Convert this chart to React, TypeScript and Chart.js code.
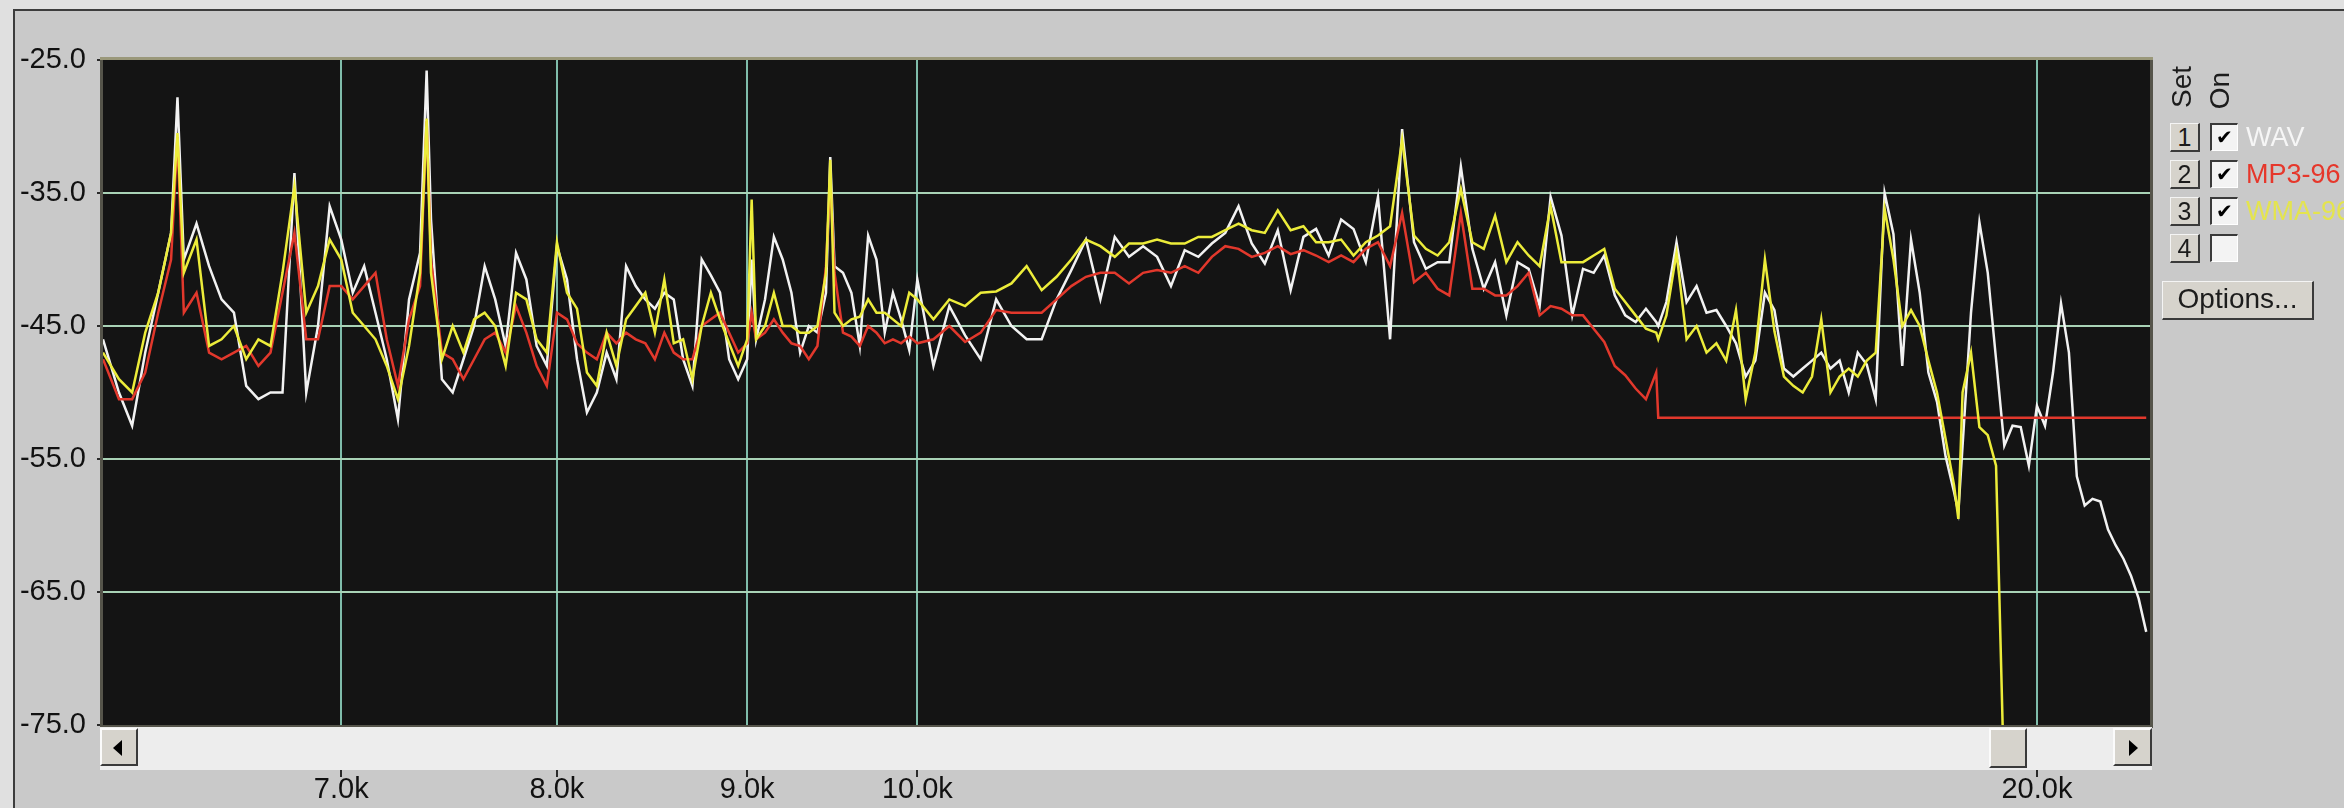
import React, { useEffect, useRef } from "react";
import { Chart, registerables } from "chart.js";

Chart.register(...registerables);

// ---- data ----
const FREQ_HZ = [
  6040, 6100, 6150, 6200, 6250, 6300, 6325, 6350, 6400, 6450, 6500, 6550, 6600, 6650, 6700, 6750, 6800, 6850, 6900, 6950,
  7000, 7050, 7100, 7150, 7200, 7250, 7300, 7350, 7380, 7400, 7450, 7500, 7550, 7600, 7650, 7700, 7750, 7800, 7850, 7900, 7950,
  8000, 8050, 8100, 8150, 8200, 8250, 8300, 8350, 8400, 8450, 8500, 8550, 8600, 8650, 8700, 8750, 8800, 8850, 8900, 8950,
  9000, 9025, 9050, 9100, 9150, 9200, 9250, 9300, 9350, 9400, 9450, 9475, 9500, 9550, 9600, 9650, 9700, 9750, 9800, 9850, 9900, 9950,
  10000,
  10100, 10200, 10300, 10400, 10500, 10600, 10700, 10800, 10900, 11000,
  11100, 11200, 11300, 11400, 11500, 11600, 11700, 11800, 11900, 12000,
  12100, 12200, 12300, 12400, 12500, 12600, 12700, 12800, 12900, 13000,
  13100, 13200, 13300, 13400, 13500, 13600, 13700, 13800, 13900, 14000,
  14100, 14200, 14300, 14400, 14500, 14600, 14700, 14800, 14900, 15000,
  15100, 15200, 15300, 15400, 15500, 15600, 15700, 15800,
  15820,
  15900, 16000, 16100, 16200, 16300, 16400, 16500, 16600, 16700, 16800,
  16900, 17000, 17100, 17200, 17300, 17400, 17500, 17600, 17700, 17800,
  17900, 18000, 18100, 18200, 18300, 18400, 18500, 18600, 18700, 18800, 18900, 19000,
  19050,
  19100, 19200, 19300, 19400, 19500, 19600, 19700, 19800, 19900, 20000,
  20100, 20200, 20300, 20400, 20500, 20600, 20700, 20800, 20900, 21000, 21100, 21200, 21300, 21400,
];

const WAV_DB = [
  -46, -50, -52.5, -47, -42.5, -38, -27.8, -40, -37.3, -40.5, -43, -44, -49.5, -50.5, -50, -50, -33.5, -50, -45, -36,
  -38.5, -42.5, -40.5, -44, -47.5, -52, -43, -39.5, -25.8, -37, -49, -50, -47.5, -45, -40.5, -43, -46.5, -39.5, -41.5, -46.5, -48,
  -39, -41.5, -47.5, -51.5, -50, -47, -49, -40.5, -42, -43, -43.7, -42.5, -43, -47.5, -49.5, -40, -41.2, -42.5, -47.5, -49,
  -47.5, -40, -46, -43, -38.3, -40, -42.5, -47, -45, -45.5, -42.5, -32.3, -40.5, -41, -42.5, -46.5, -38.2, -40, -45.5, -42.5, -44.5, -46.8,
  -41.5,
  -48, -43.5, -45.7, -47.5, -43, -45, -46, -46, -43, -40.8,
  -38.5, -43, -38.3, -39.8, -39, -39.8, -42, -39.3, -39.8, -38.8,
  -38, -36, -38.8, -40.3, -37.8, -42.3, -38.3, -37.7, -39.7, -37,
  -37.7, -40.2, -35.3, -46, -30.2, -38.7, -40.7, -40.2, -40.2, -33,
  -39.2, -42.2, -40.2, -44.2, -40.2, -40.7, -43.5, -35.3, -38.2, -44.2,
  -40.7, -41, -39.7, -42.7, -44.2, -44.7, -43.7, -44.7,
  -45,
  -43.2, -38.7, -43.2, -42, -44, -43.8, -45, -46.3, -48.8, -47.6,
  -42.5, -43.8, -48.2, -48.8, -48.2, -47.6, -47, -48.2, -47.6, -50,
  -47, -47.9, -50.5, -35, -38.1, -48, -38.5, -42.5, -48.5, -50.7, -54.8, -57.5,
  -59,
  -54, -44, -37.2, -41, -47.5, -54, -52.5, -52.6, -55.5, -51,
  -52.5, -48.5, -43.3, -47, -56.3, -58.5, -58, -58.2, -60.3, -61.5, -62.5, -63.8, -65.5, -68,
];

const MP3_96_DB = [
  -47.5, -50.5, -50.5, -48.5, -44, -40, -30.8, -44, -42.5, -47, -47.5, -47, -46.5, -48, -47, -42.5, -38, -46, -46, -42,
  -42, -43, -42, -41, -46, -49.5, -44.5, -42, -29.6, -40, -47, -47.5, -49, -47.5, -46, -45.5, -47, -43.5, -45.5, -48, -49.5,
  -44, -44.5, -46.3, -47, -47.5, -45.5, -46.3, -45.5, -46, -46.3, -47.5, -45.5, -47, -47.5, -47.5, -45, -44.5, -44, -45.5, -47,
  -46.3, -44, -46, -45.5, -44.5, -45.5, -46.3, -46.5, -47.5, -46.5, -40.5, -34, -41, -45.5, -45.8, -46.5, -45, -45.5, -46.3, -46, -46.3, -45.8,
  -46.3,
  -46, -45, -46.2, -45.5, -43.8, -44, -44, -44, -43, -42,
  -41.3, -41, -41, -41.8, -41, -40.8, -41, -40.5, -41, -39.8,
  -39, -39.2, -39.8, -39.5, -39, -39.6, -39.3, -39.7, -40.2, -39.7,
  -40.2, -39.2, -38.7, -40.5, -36.5, -41.7, -41, -42.2, -42.7, -36.5,
  -42.2, -42.2, -42.7, -42.7, -42, -41, -44.2, -43.5, -43.7, -44.2,
  -44.2, -45.2, -46.2, -48, -48.7, -49.7, -50.5, -48.5,
  -51.9,
  -51.9, -51.9, -51.9, -51.9, -51.9, -51.9, -51.9, -51.9, -51.9, -51.9,
  -51.9, -51.9, -51.9, -51.9, -51.9, -51.9, -51.9, -51.9, -51.9, -51.9,
  -51.9, -51.9, -51.9, -51.9, -51.9, -51.9, -51.9, -51.9, -51.9, -51.9, -51.9, -51.9,
  -51.9,
  -51.9, -51.9, -51.9, -51.9, -51.9, -51.9, -51.9, -51.9, -51.9, -51.9,
  -51.9, -51.9, -51.9, -51.9, -51.9, -51.9, -51.9, -51.9, -51.9, -51.9, -51.9, -51.9, -51.9, -51.9,
];

const WMA_96_DB = [
  -47, -49, -50, -45.5, -42.5, -38, -30.5, -41, -38.5, -46.5, -46, -45, -47.5, -46, -46.5, -41, -34.5, -44, -42, -38.5,
  -40, -44, -45, -46, -48, -50.5, -46.5, -41, -29.4, -41, -47.5, -45, -47, -44.5, -44, -45, -48, -42.5, -43, -46, -47,
  -38.7, -42.5, -43.7, -48.5, -49.5, -45.5, -48, -44.5, -43.5, -42.5, -45.5, -41.5, -46.3, -46, -49, -45, -42.5, -44.5, -46.3, -48,
  -46, -35.5, -46, -45, -42.5, -45, -45, -45.5, -45.5, -45, -41, -32.5, -44, -45, -44.5, -44.3, -43, -44, -44, -44.5, -45, -42.5,
  -43,
  -44.5, -43, -43.5, -42.5, -42.4, -41.8, -40.5, -42.3, -41.3, -40,
  -38.5, -39, -39.8, -38.8, -38.8, -38.5, -38.8, -38.8, -38.3, -38.3,
  -37.8, -37.3, -37.8, -38, -36.3, -37.8, -37.5, -38.7, -38.7, -38.5,
  -39.7, -38.7, -38.2, -37.5, -31, -38.2, -39.2, -39.7, -38.7, -34.7,
  -38.7, -39.2, -36.7, -40.2, -38.7, -39.7, -40.5, -36, -40.2, -40.2,
  -40.2, -39.7, -39.2, -42.2, -43.2, -44.2, -45.2, -45.5,
  -46,
  -44.2, -39.5, -46, -45, -47, -46.3, -47.6, -43.8, -50.5, -47,
  -40, -45.4, -48.8, -49.5, -50, -48.8, -44.5, -50, -48.8, -48.2,
  -48.8, -47.6, -47, -36.2, -40, -45, -43.8, -45, -47.6, -50, -53.5, -57,
  -59.5,
  -50, -47, -52.6, -53.2, -55.5, -80, -80, -80, -80, -80,
  -80, -80, -80, -80, -80, -80, -80, -80, -80, -80, -80, -80, -80, -80,
];

const SERIES_NAMES = ["WAV", "MP3-96", "WMA-96"];
const LEGEND_SLOTS = ["1", "2", "3", "4"];
const X_TICKS_HZ = [7000, 8000, 9000, 10000, 20000];
const Y_TICKS_DB = [-75, -65, -55, -45, -35, -25];
const X_MIN_HZ = 6040;
const X_MAX_HZ = 21450;

// ---- styles ----
const SERIES_COLORS = ["#f2f2f2", "#e2382c", "#ecec3a"];
const LEGEND_TEXT_COLORS = ["#f6f6f6", "#e6372b", "#e4e44e"];
const FONT = '"Liberation Sans", Arial, Helvetica, sans-serif';

const framePlugin = {
  id: "analyzerFrame",
  beforeDraw(chart: any) {
    const { ctx, chartArea: a } = chart;
    ctx.save();
    ctx.fillStyle = "#141414";
    ctx.fillRect(a.left - 2, a.top - 2, a.right - a.left + 4, a.bottom - a.top + 4);
    ctx.restore();
  },
  afterDraw(chart: any) {
    const { ctx, chartArea: a } = chart;
    ctx.save();
    ctx.lineWidth = 3;
    ctx.strokeStyle = "#55544a";
    ctx.strokeRect(a.left - 1.5, a.top - 1.5, a.right - a.left + 3, a.bottom - a.top + 3);
    ctx.strokeStyle = "#9a987a";
    ctx.beginPath();
    ctx.moveTo(a.left - 3, a.top - 1.5);
    ctx.lineTo(a.right + 3, a.top - 1.5);
    ctx.stroke();
    const xs = chart.scales.x;
    ctx.strokeStyle = "#2a2a2a";
    ctx.lineWidth = 2;
    X_TICKS_HZ.forEach((v) => {
      const px = Math.round(xs.getPixelForValue(v));
      ctx.beginPath();
      ctx.moveTo(px, a.bottom + 45);
      ctx.lineTo(px, a.bottom + 52);
      ctx.stroke();
    });
    ctx.restore();
  },
};

const raised: React.CSSProperties = {
  position: "absolute",
  boxSizing: "border-box",
  background: "#d6d3cc",
  borderTop: "2px solid #fbfbfb",
  borderLeft: "2px solid #fbfbfb",
  borderBottom: "2px solid #3a3a3a",
  borderRight: "2px solid #3a3a3a",
};

export default function App() {
  const canvasRef = useRef<HTMLCanvasElement | null>(null);

  useEffect(() => {
    const canvas = canvasRef.current;
    if (!canvas) return;
    const datasets = [WAV_DB, MP3_96_DB, WMA_96_DB].map((vals, i) => ({
      label: SERIES_NAMES[i],
      data: FREQ_HZ.map((f, j) => ({ x: f, y: vals[j] })),
      borderColor: SERIES_COLORS[i],
      backgroundColor: SERIES_COLORS[i],
      borderWidth: 2.5,
      pointRadius: 0,
      tension: 0,
      fill: false,
      order: 3 - i,
    }));
    const chart = new Chart(canvas, {
      type: "line",
      data: { datasets },
      options: {
        animation: false,
        responsive: false,
        maintainAspectRatio: false,
        devicePixelRatio: 1,
        layout: { padding: { left: 0, top: 60, right: 194, bottom: 0 } },
        plugins: { legend: { display: false }, tooltip: { enabled: false } },
        scales: {
          x: {
            type: "logarithmic",
            min: X_MIN_HZ,
            max: X_MAX_HZ,
            afterBuildTicks: (scale: any) => {
              scale.ticks = X_TICKS_HZ.map((v) => ({ value: v }));
            },
            afterFit: (scale: any) => {
              scale.height = 83;
              scale.paddingLeft = 0;
              scale.paddingRight = 0;
            },
            ticks: {
              autoSkip: false,
              maxRotation: 0,
              minRotation: 0,
              padding: 48,
              color: "#111111",
              font: { family: FONT, size: 29 },
              callback: (v: any) => (Number(v) / 1000).toFixed(1) + "k",
            },
            grid: { color: "#7fbcaa", lineWidth: 2, drawTicks: false },
            border: { display: false },
          },
          y: {
            type: "linear",
            min: -75,
            max: -25,
            afterBuildTicks: (scale: any) => {
              scale.ticks = Y_TICKS_DB.map((v) => ({ value: v }));
            },
            afterFit: (scale: any) => {
              scale.width = 103;
              scale.paddingTop = 0;
              scale.paddingBottom = 0;
            },
            ticks: {
              padding: 11,
              color: "#111111",
              font: { family: FONT, size: 29 },
              callback: (v: any) => Number(v).toFixed(1),
            },
            grid: {
              color: (c: any) =>
                c.tick && (c.tick.value === -25 || c.tick.value === -75) ? "rgba(0,0,0,0)" : "#a9d2b6",
              lineWidth: 2,
              drawTicks: true,
              tickLength: 6,
              tickColor: "#2a2a2a",
              tickWidth: 2,
            },
            border: { display: false },
          },
        },
      } as any,
      plugins: [framePlugin],
    });
    return () => chart.destroy();
  }, []);

  const rowTop = (i: number) => 123 + i * 37;

  return (
    <div
      style={{
        position: "absolute",
        left: 0,
        top: 0,
        width: 2344,
        height: 808,
        overflow: "hidden",
        background: "#e0e0e0",
        fontFamily: FONT,
      }}
    >
      <div
        style={{
          position: "absolute",
          left: 13,
          top: 9,
          width: 2331,
          height: 799,
          background: "#c9c9c9",
          borderLeft: "2px solid #3c3c3c",
          borderTop: "2px solid #3c3c3c",
        }}
      />
      <canvas ref={canvasRef} width={2344} height={808} style={{ position: "absolute", left: 0, top: 0 }} />

      {/* scrollbar */}
      <div style={{ position: "absolute", left: 100, top: 727, width: 2052, height: 43, background: "#ededed" }}>
        <div style={{ ...raised, left: 0, top: 1, width: 38, height: 38 }}>
          <div
            style={{
              position: "absolute",
              left: 11,
              top: 10,
              width: 0,
              height: 0,
              borderTop: "8px solid transparent",
              borderBottom: "8px solid transparent",
              borderRight: "9px solid #000",
            }}
          />
        </div>
        <div style={{ ...raised, left: 1889, top: 1, width: 38, height: 40 }} />
        <div style={{ ...raised, left: 2013, top: 1, width: 39, height: 38 }}>
          <div
            style={{
              position: "absolute",
              left: 14,
              top: 10,
              width: 0,
              height: 0,
              borderTop: "8px solid transparent",
              borderBottom: "8px solid transparent",
              borderLeft: "9px solid #000",
            }}
          />
        </div>
      </div>

      {/* legend */}
      <div
        style={{
          position: "absolute",
          left: 2166,
          top: 66,
          writingMode: "vertical-rl",
          transform: "rotate(180deg)",
          fontSize: 28,
          lineHeight: "32px",
          color: "#1c1c1c",
        }}
      >
        Set
      </div>
      <div
        style={{
          position: "absolute",
          left: 2204,
          top: 72,
          writingMode: "vertical-rl",
          transform: "rotate(180deg)",
          fontSize: 28,
          lineHeight: "32px",
          color: "#1c1c1c",
        }}
      >
        On
      </div>
      {LEGEND_SLOTS.map((slot, i) => (
        <React.Fragment key={slot}>
          <div
            style={{
              ...raised,
              left: 2170,
              top: rowTop(i),
              width: 30,
              height: 29,
              borderTop: "1px solid #f4f4f4",
              borderLeft: "1px solid #f4f4f4",
              fontSize: 25,
              lineHeight: "26px",
              textAlign: "center",
              color: "#1c1c1c",
            }}
          >
            {slot}
          </div>
          <div
            style={{
              position: "absolute",
              boxSizing: "border-box",
              left: 2210,
              top: rowTop(i),
              width: 28,
              height: 28,
              background: "#f3f3f3",
              borderTop: "2px solid #3a3a3a",
              borderLeft: "2px solid #3a3a3a",
              borderBottom: "1px solid #fff",
              borderRight: "1px solid #fff",
              fontFamily: '"DejaVu Sans", sans-serif',
              fontSize: 20,
              lineHeight: "25px",
              textAlign: "center",
              color: "#000",
            }}
          >
            {i < SERIES_NAMES.length ? "\u2714" : ""}
          </div>
          {i < SERIES_NAMES.length ? (
            <div
              style={{
                position: "absolute",
                left: 2246,
                top: rowTop(i) - 1,
                fontSize: 27,
                lineHeight: "30px",
                whiteSpace: "nowrap",
                color: LEGEND_TEXT_COLORS[i],
              }}
            >
              {SERIES_NAMES[i]}
            </div>
          ) : null}
        </React.Fragment>
      ))}
      <div
        style={{
          ...raised,
          left: 2162,
          top: 281,
          width: 152,
          height: 39,
          borderTop: "1px solid #f4f4f4",
          borderLeft: "1px solid #f4f4f4",
          fontSize: 28,
          lineHeight: "34px",
          textAlign: "center",
          color: "#1c1c1c",
        }}
      >
        Options...
      </div>
    </div>
  );
}
